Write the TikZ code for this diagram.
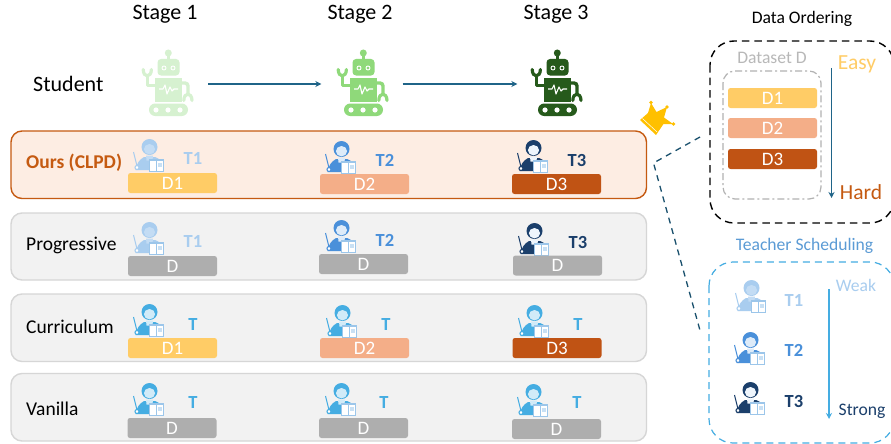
\documentclass[tikz,border=0pt]{standalone}
\usepackage{fontspec}
\setmainfont{Carlito}
\usetikzlibrary{arrows.meta}
\definecolor{cOurs}{HTML}{C55A11}
\definecolor{cOursFill}{HTML}{FDEDE3}
\definecolor{cRow}{HTML}{F2F2F2}
\definecolor{cRowLine}{HTML}{D6D6D6}
\definecolor{cDa}{HTML}{FFCC66}
\definecolor{cDb}{HTML}{F4AE88}
\definecolor{cDc}{HTML}{C05314}
\definecolor{cDg}{HTML}{AEAEAE}
\definecolor{cTa}{HTML}{A9CDEF}
\definecolor{cTb}{HTML}{4A90DA}
\definecolor{cTc}{HTML}{1B3F6B}
\definecolor{cTd}{HTML}{45ADE2}
\definecolor{cBook}{HTML}{9CC6EA}
\definecolor{cRa}{HTML}{D6F1D0}
\definecolor{cRb}{HTML}{8FD97A}
\definecolor{cRc}{HTML}{265A1B}
\definecolor{cArrow}{HTML}{1F6488}
\definecolor{cGold}{HTML}{FFC000}
\definecolor{cTitleBlue}{HTML}{5B9BD5}
\tikzset{
  x=1pt,y=-1pt,
  rowbox/.style={draw=cRowLine,fill=cRow,line width=1.4pt,rounded corners=11pt},
  oursbox/.style={draw=cOurs,fill=cOursFill,line width=1.4pt,rounded corners=11pt},
  databar/.style={rounded corners=2.5pt,minimum width=89pt,minimum height=20pt,inner sep=0pt,text=white,font=\fontsize{19}{22}\selectfont},
  head/.style={font=\fontsize{22}{26}\selectfont,inner sep=0pt},
  rowlabel/.style={font=\fontsize{19.5}{23}\selectfont,inner sep=0pt,anchor=west},
  tlabel/.style={font=\fontsize{18.5}{22}\selectfont\bfseries,inner sep=0pt},
  flow/.style={draw=cArrow,line width=1.2pt,-{Stealth[length=6pt,width=6pt]}},
  side/.style={font=\fontsize{21.5}{25}\selectfont,inner sep=0pt},
  small/.style={font=\fontsize{17.6}{21}\selectfont,inner sep=0pt},
  robotslot/.style={minimum width=81pt,minimum height=66pt,inner sep=0pt},
}
% \teacher{x}{y}{main}{face}
\newcommand{\teacher}[4]{%
\begin{scope}[shift={(#1,#2)}]
  \draw[#3,line width=1pt] (0.5,13) -- (4,27);
  \fill[#3] (2.5,31) .. controls (4,24) and (6,21) .. (11,18) -- (22,18) .. controls (27,20) and (29,22) .. (29,26) -- (29,31) -- cycle;
  \draw[#3,line width=1.1pt,fill=white] (4,28.5) circle[radius=2];
  \fill[#4] (13,16.5) -- (20,16.5) -- (19.5,21.5) -- (13.5,21.5) -- cycle;
  \fill[#3] (16.5,8) circle[radius=8];
  \fill[#4] (16.5,10.2) ellipse[x radius=5.6,y radius=5.2];
  \draw[cBook,line width=1.2pt,fill=white] (16.5,21) rectangle (30.5,32.5);
  \draw[cBook,line width=.9pt] (23.5,21) -- (23.5,32.5);
  \fill[cBook!55] (25.2,23.5) rectangle (28.6,28);
\end{scope}}
% \robot{x}{y}{colour}
\newcommand{\robot}[3]{%
\begin{scope}[shift={(#1,#2)}]
  \draw[#3,line width=2.4pt] (26.3,3) -- (26.3,10);
  \fill[#3] (26.3,3) circle[radius=3.5];
  \fill[#3,rounded corners=3.5pt] (15.5,9) rectangle (37.5,25.5);
  \draw[white,line width=.9pt] (22,18) circle[radius=2] (31,18) circle[radius=2];
  \fill[#3] (13,28) rectangle (40,51.5);
  \draw[white,line width=1.1pt,line join=round] (17,39) -- (21,39) -- (23,35) -- (25,44) -- (28,37) -- (30,41) -- (32,39) -- (36,39);
  \draw[#3,line width=3.4pt,line join=round] (13,35.5) -- (5.3,35.5) -- (5.3,25);
  \draw[#3,line width=3.2pt,line cap=round] (1.2,19.5) .. controls (1.4,28) and (9.2,28) .. (9.4,19.5);
  \draw[#3,line width=3.4pt,rounded corners=3pt] (39,33) -- (46,33) -- (46,44);
  \draw[#3,line width=3.2pt,line cap=round] (41.8,50.5) .. controls (42,42) and (49.8,42) .. (50,50.5);
  \fill[#3,rounded corners=6.2pt] (7,53.5) rectangle (46,66);
  \fill[white] (14,60) circle[radius=2.6] (26,60) circle[radius=2.6] (38,60) circle[radius=2.6];
\end{scope}}
\begin{document}
\begin{tikzpicture}
\useasboundingbox (0,0) rectangle (891,444);
\clip (0,0) rectangle (891,444);
\fill[white] (0,0) rectangle (891,444);
% headers
\node[head] (h1) at (165,14) {Stage 1};
\node[head] (h2) at (360,14) {Stage 2};
\node[head] (h3) at (556,14) {Stage 3};
\node[rowlabel,font=\fontsize{22}{26}\selectfont] (lstudent) at (33,84) {Student};
% robots
\robot{142}{50}{cRa}
\robot{337}{50}{cRb}
\robot{531}{50}{cRc}
\node[robotslot] (r1) at (167.5,84) {};
\node[robotslot] (r2) at (362,84) {};
\node[robotslot] (r3) at (558,84) {};
\draw[flow] (r1.east) -- (r2.west);
\draw[flow] (r2.east) -- (r3.west);
% rows
\draw[oursbox] (11,131) rectangle (646.5,198.5);
\draw[rowbox] (11,213) rectangle (646.5,280);
\draw[rowbox] (11,294) rectangle (646.5,361.5);
\draw[rowbox] (11,373.5) rectangle (646.5,441);
\node[rowlabel,text=cOurs,font=\fontsize{19.5}{23}\selectfont\bfseries] (lours) at (26,163) {Ours (CLPD)};
\node[rowlabel] (lprog) at (26,245) {Progressive};
\node[rowlabel] (lcurr) at (26,327) {Curriculum};
\node[rowlabel] (lvan) at (26,409) {Vanilla};
% Ours
\teacher{133}{139}{cTa}{cTa!70!white}
\teacher{325}{141}{cTb}{cTa!40!white}
\teacher{517}{140}{cTc}{cTa!20!white}
\node[tlabel,text=cTa] (ta1) at (193,158) {T1};
\node[tlabel,text=cTb] (ta2) at (385,160) {T2};
\node[tlabel,text=cTc] (ta3) at (577,160) {T3};
\node[databar,fill=cDa] (da1) at (172.5,183) {D1};
\node[databar,fill=cDb] (da2) at (364.5,184) {D2};
\node[databar,fill=cDc] (da3) at (556.5,184) {D3};
% Progressive
\teacher{133}{222}{cTa}{cTa!70!white}
\teacher{325}{220}{cTb}{cTa!40!white}
\teacher{518}{223}{cTc}{cTa!20!white}
\node[tlabel,text=cTa] (tb1) at (193,241) {T1};
\node[tlabel,text=cTb] (tb2) at (385,240) {T2};
\node[tlabel,text=cTc] (tb3) at (578,242) {T3};
\node[databar,fill=cDg] (db1) at (172.5,266) {D};
\node[databar,fill=cDg] (db2) at (363.5,264) {D};
\node[databar,fill=cDg] (db3) at (557.5,265.5) {D};
% Curriculum
\teacher{133}{304}{cTd}{cTd!25!white}
\teacher{326}{305}{cTd}{cTd!25!white}
\teacher{518}{305}{cTd}{cTd!25!white}
\node[tlabel,text=cTd] (tc1) at (193,324) {T};
\node[tlabel,text=cTd] (tc2) at (386,324) {T};
\node[tlabel,text=cTd] (tc3) at (578,324) {T};
\node[databar,fill=cDa] (dc1) at (172.5,348) {D1};
\node[databar,fill=cDb] (dc2) at (364.5,348) {D2};
\node[databar,fill=cDc] (dc3) at (557,348) {D3};
% Vanilla
\teacher{133}{383}{cTd}{cTd!25!white}
\teacher{325}{383}{cTd}{cTd!25!white}
\teacher{517}{384}{cTd}{cTd!25!white}
\node[tlabel,text=cTd] (td1) at (193,402) {T};
\node[tlabel,text=cTd] (td2) at (384,402) {T};
\node[tlabel,text=cTd] (td3) at (577,402) {T};
\node[databar,fill=cDg] (dd1) at (172,428) {D};
\node[databar,fill=cDg] (dd2) at (363.5,428) {D};
\node[databar,fill=cDg] (dd3) at (556.5,429) {D};
% crown
\fill[cGold,line join=round] (640,120) -- (648,113) -- (651,103) -- (656.5,112) -- (667,107) -- (664,117.5) -- (673,124) -- (663.5,124) -- (656,135) -- cycle;
\fill[cGold] (651,102.5) circle[radius=1.8] (667,107) circle[radius=1.8] (673.5,124) circle[radius=1.8];
\draw[white,line width=.5pt] (642.5,118.5) -- (657,132);
% connector
\coordinate (ca) at (700,137);
\coordinate (cb) at (653.5,163);
\coordinate (cc) at (701,334);
\draw[cArrow!80!black,line width=1.3pt,dash pattern=on 6pt off 5pt] (ca) -- (cb) -- (cc);
% data ordering panel
\node[small] (tdo) at (802,19) {Data Ordering};
\draw[black,line width=1.4pt,dash pattern=on 7.5pt off 5pt,rounded corners=24pt] (710,41) rectangle (894,223);
\node[small,text=black!28] (tds) at (772,58) {Dataset D};
\draw[black!30,line width=1.2pt,dash pattern=on 7pt off 3pt on 2pt off 3pt,rounded corners=12pt] (723,71) rectangle (821,199);
\node[databar,fill=cDa] (pd1) at (772.5,98) {D1};
\node[databar,fill=cDb] (pd2) at (772.5,128) {D2};
\node[databar,fill=cDc] (pd3) at (772.5,159) {D3};
\coordinate (oa) at (831.5,68);
\coordinate (ob) at (831.5,198);
\draw[cArrow,line width=1.2pt,-{Stealth[length=6pt,width=6pt]}] (oa) -- (ob);
\node[side,text=cDa] (teasy) at (857,64) {Easy};
\node[side,text=cOurs] (thard) at (861,192) {Hard};
% teacher scheduling panel
\node[small,text=cTitleBlue] (tts) at (804.5,246) {Teacher Scheduling};
\draw[cTd,line width=1.2pt,dash pattern=on 7pt off 5pt,rounded corners=24pt] (709,262) rectangle (894,443);
\teacher{735}{280}{cTa}{cTa!70!white}
\teacher{734}{332}{cTb}{cTa!40!white}
\teacher{734}{382}{cTc}{cTa!20!white}
\node[tlabel,text=cTa] (te1) at (794,300) {T1};
\node[tlabel,text=cTb] (te2) at (794,350) {T2};
\node[tlabel,text=cTc] (te3) at (794,401) {T3};
\coordinate (sa) at (829,289);
\coordinate (sb) at (829,419);
\draw[cTd,line width=1.2pt,-{Stealth[length=6pt,width=6pt]}] (sa) -- (sb);
\node[small,text=cTa] (tweak) at (856,285) {Weak};
\node[small,text=cTc] (tstrong) at (862,411) {Strong};
\end{tikzpicture}
\end{document}
